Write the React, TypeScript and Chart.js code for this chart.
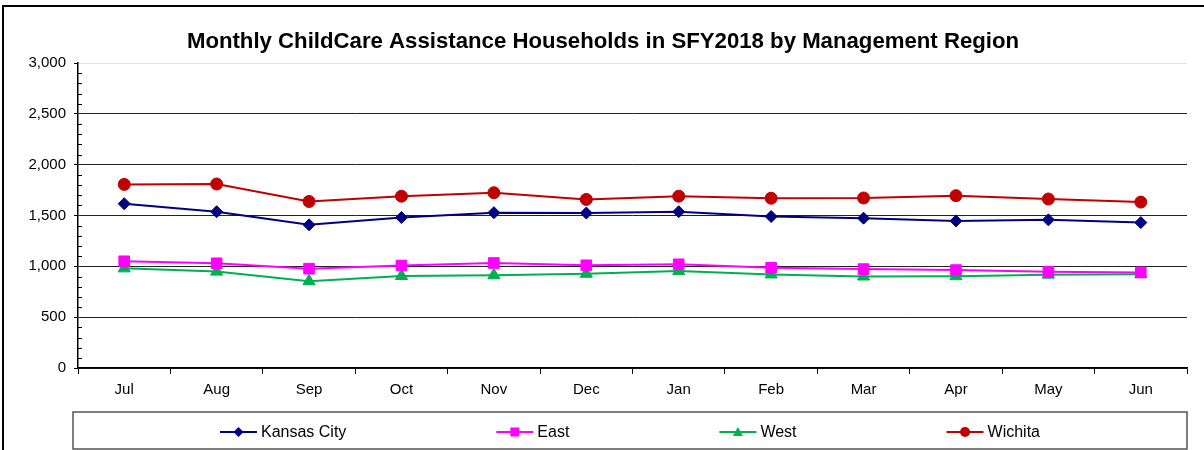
import React, { useEffect, useRef } from "react";
import { Chart, registerables } from "chart.js";

Chart.register(...registerables);

const months = ["Jul", "Aug", "Sep", "Oct", "Nov", "Dec", "Jan", "Feb", "Mar", "Apr", "May", "Jun"];
const kansasCity = [1616, 1537, 1408, 1480, 1528, 1524, 1537, 1490, 1474, 1447, 1457, 1430];
const east = [1050, 1030, 977, 1008, 1033, 1010, 1020, 987, 973, 963, 947, 940];
const west = [980, 948, 853, 905, 912, 927, 953, 920, 900, 903, 918, 923];
const wichita = [1806, 1810, 1638, 1690, 1724, 1658, 1690, 1670, 1672, 1695, 1662, 1632];
const seriesNames = ["Kansas City", "East", "West", "Wichita"];
const titleText = "Monthly ChildCare Assistance Households in SFY2018 by Management Region";

const FONT = "'Liberation Sans', Arial, sans-serif";

const decorPlugin = {
  id: "decor",
  beforeDraw(chart: any) {
    const ctx = chart.ctx;
    ctx.save();
    ctx.fillStyle = "#fff";
    ctx.fillRect(0, 0, chart.width, chart.height);
    ctx.strokeStyle = "#000";
    ctx.lineWidth = 2;
    ctx.beginPath();
    ctx.moveTo(3, 460);
    ctx.lineTo(3, 6);
    ctx.lineTo(1210, 6);
    ctx.stroke();
    ctx.restore();
  },
  afterDraw(chart: any) {
    const ctx = chart.ctx;
    const area = chart.chartArea;
    const y = chart.scales.y;
    ctx.save();
    // title
    ctx.fillStyle = "#000";
    ctx.font = `bold 22.2px ${FONT}`;
    ctx.textAlign = "center";
    ctx.textBaseline = "middle";
    ctx.fillText(titleText, 603, 42);
    // minor ticks
    ctx.strokeStyle = "#000";
    ctx.lineWidth = 1;
    ctx.beginPath();
    for (let v = 100; v < 3000; v += 100) {
      if (v % 500 === 0) continue;
      const py = Math.round(y.getPixelForValue(v)) + 0.5;
      ctx.moveTo(area.left, py);
      ctx.lineTo(area.left + 4, py);
    }
    ctx.stroke();
    // legend box
    const bx = 73, by = 412, bw = 1114, bh = 37;
    ctx.strokeStyle = "#555";
    ctx.lineWidth = 1.5;
    ctx.strokeRect(bx, by, bw, bh);
    ctx.font = `16px ${FONT}`;
    ctx.textBaseline = "middle";
    ctx.textAlign = "left";
    const lineLen = 37;
    const gapText = 4;
    const gap = 150;
    const items = chart.data.datasets.map((ds: any) => ({
      ds,
      w: lineLen + gapText + ctx.measureText(ds.label).width,
    }));
    const total = items.reduce((s: number, it: any) => s + it.w, 0) + gap * (items.length - 1);
    let x = bx + bw / 2 - total / 2;
    const cy = 432;
    items.forEach((it: any) => {
      const ds = it.ds;
      ctx.strokeStyle = ds.borderColor;
      ctx.lineWidth = 2;
      ctx.beginPath();
      ctx.moveTo(x, cy);
      ctx.lineTo(x + lineLen, cy);
      ctx.stroke();
      ctx.fillStyle = ds.pointBackgroundColor;
      const mx = x + lineLen / 2;
      const r = 5;
      ctx.beginPath();
      if (ds.pointStyle === "rectRot") {
        ctx.moveTo(mx, cy - r); ctx.lineTo(mx + r, cy); ctx.lineTo(mx, cy + r); ctx.lineTo(mx - r, cy); ctx.closePath();
      } else if (ds.pointStyle === "rect") {
        ctx.rect(mx - 4.5, cy - 4.5, 9, 9);
      } else if (ds.pointStyle === "triangle") {
        ctx.moveTo(mx, cy - 5); ctx.lineTo(mx + 5, cy + 4); ctx.lineTo(mx - 5, cy + 4); ctx.closePath();
      } else {
        ctx.arc(mx, cy, 5, 0, Math.PI * 2);
      }
      ctx.fill();
      ctx.fillStyle = "#000";
      ctx.fillText(ds.label, x + lineLen + gapText, cy + 1);
      x += it.w + gap;
    });
    ctx.restore();
  },
};

export default function App() {
  const ref = useRef<HTMLCanvasElement>(null);
  useEffect(() => {
    document.body.style.margin = "0";
    const mk = (label: string, data: number[], color: string, style: string, radius: number) => ({
      label,
      data,
      borderColor: color,
      backgroundColor: color,
      pointBackgroundColor: color,
      pointBorderColor: color,
      pointStyle: style,
      pointRadius: radius,
      pointBorderWidth: 1,
      borderWidth: 2,
      tension: 0,
    });
    const chart = new Chart(ref.current!, {
      type: "line",
      data: {
        labels: months,
        datasets: [
          mk(seriesNames[0], kansasCity, "#000080", "rectRot", 6),
          mk(seriesNames[1], east, "#FF00FF", "rect", 7.5),
          mk(seriesNames[2], west, "#00B050", "triangle", 7),
          mk(seriesNames[3], wichita, "#C00000", "circle", 6),
        ],
      },
      options: {
        animation: false,
        responsive: false,
        layout: { padding: { top: 63, left: 0, right: 17, bottom: 42 } },
        plugins: { legend: { display: false }, title: { display: false }, tooltip: { enabled: false } },
        scales: {
          x: {
            offset: true,
            grid: { display: true, drawOnChartArea: false, offset: true, color: "#000", tickLength: 6 },
            border: { color: "#000", width: 1.5 },
            ticks: { color: "#000", font: { family: FONT, size: 15 }, padding: 7 },
            afterFit: (s: any) => { s.height = 40; },
          },
          y: {
            min: 0,
            max: 3000,
            ticks: {
              stepSize: 500,
              color: "#000",
              font: { family: FONT, size: 15 },
              padding: 8,
              callback: (v: any) => Number(v).toLocaleString("en-US"),
            },
            grid: {
              color: (c: any) => (c.tick && c.tick.value === 3000 ? "#e0e0e0" : "#222"),
              tickColor: "#000",
              tickLength: 4,
              lineWidth: 1,
            },
            border: { color: "#000", width: 1.5 },
            afterFit: (s: any) => { s.width = 78; },
          },
        },
      },
      plugins: [decorPlugin],
    } as any);
    return () => chart.destroy();
  }, []);
  return <canvas ref={ref} width={1204} height={450} style={{ display: "block" }} />;
}
